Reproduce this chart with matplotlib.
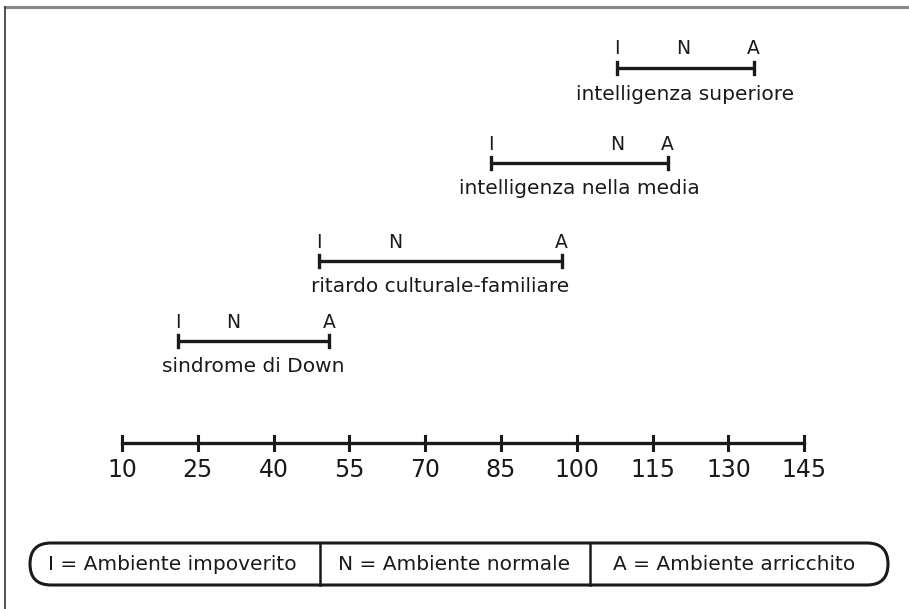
import matplotlib.pyplot as plt
from matplotlib.patches import FancyBboxPatch

# Dati: punteggi QI (ambiente impoverito, normale, arricchito)
gruppi = ["sindrome di Down", "ritardo culturale-familiare",
          "intelligenza nella media", "intelligenza superiore"]
val_I = [21, 49, 83, 108]
val_N = [32, 64, 108, 121]
val_A = [51, 97, 118, 135]
ticks = [10, 25, 40, 55, 70, 85, 100, 115, 130, 145]
legenda = ["I = Ambiente impoverito", "N = Ambiente normale", "A = Ambiente arricchito"]

W, H = 909, 609
fig = plt.figure(figsize=(W / 100, H / 100), dpi=100)

# assi "pixel" per cornice e legenda
bg = fig.add_axes([0, 0, 1, 1])
bg.set_xlim(0, W)
bg.set_ylim(H, 0)
bg.axis("off")

# assi dati: x in punti QI, y in pixel
ax = fig.add_axes([0, 0, 1, 1])
px_per_unit = 75.8 / 15
x0 = 10 - 122 / px_per_unit
ax.set_xlim(x0, x0 + W / px_per_unit)
ax.set_ylim(H, 0)
ax.axis("off")

col = "#1a1a1a"
font = "DejaVu Sans"

# cornice
bg.plot([5, W], [7, 7], color="#888888", lw=2.2)
bg.plot([5, 5], [7, H], color="#333333", lw=1.2)

# barre dei gruppi
y_bar = [341, 261, 163, 68]
for g, i, n, a, y in zip(gruppi, val_I, val_N, val_A, y_bar):
    ax.plot([i, a], [y, y], color=col, lw=2.4, solid_capstyle="butt")
    ax.plot([i, i], [y - 6, y + 6], color=col, lw=2.4)
    ax.plot([a, a], [y - 6, y + 6], color=col, lw=2.4)
    for lett, v in zip("INA", [i, n, a]):
        ax.text(v, y - 19, lett, ha="center", va="center", fontsize=13.5, color=col, family=font)
    ax.text((i + a) / 2, y + 26, g, ha="center", va="center", fontsize=14.5, color=col, family=font)

# asse dei punteggi
y_ax = 443
ax.plot([ticks[0], ticks[-1]], [y_ax, y_ax], color=col, lw=2.4)
for t in ticks:
    ax.plot([t, t], [y_ax - 7, y_ax + 7], color=col, lw=2.2)
    ax.text(t, y_ax + 27, str(t), ha="center", va="center", fontsize=17, color=col, family=font)

# legenda
box = FancyBboxPatch((30, 543), 858, 42, boxstyle="round,pad=0,rounding_size=21",
                     fc="white", ec=col, lw=2.2)
bg.add_patch(box)
for xd in [320, 590]:
    bg.plot([xd, xd], [543, 585], color=col, lw=1.8)
for txt, xc in zip(legenda, [172, 454, 734]):
    bg.text(xc, 565, txt, ha="center", va="center", fontsize=14.5, color=col, family=font)

fig.savefig("out.png", dpi=100, facecolor="white")
